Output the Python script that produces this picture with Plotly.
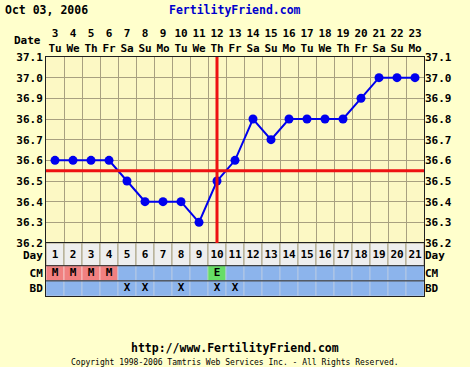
import plotly.graph_objects as go

# ---- data ----
days = list(range(1, 22))
dates = list(range(3, 24))
weekdays = ["Tu", "We", "Th", "Fr", "Sa", "Su", "Mo"] * 3
temps = [36.6, 36.6, 36.6, 36.6, 36.5, 36.4, 36.4, 36.4, 36.3, 36.5, 36.6,
         36.8, 36.7, 36.8, 36.8, 36.8, 36.8, 36.9, 37.0, 37.0, 37.0]
cm = ["M", "M", "M", "M", "", "", "", "", "", "E", "",
      "", "", "", "", "", "", "", "", "", ""]
bd = ["", "", "", "", "X", "X", "", "X", "", "X", "X",
      "", "", "", "", "", "", "", "", "", ""]
temp_ticks = [36.2, 36.3, 36.4, 36.5, 36.6, 36.7, 36.8, 36.9, 37.0, 37.1]
coverline = 36.55
ovulation_day = 10
title_date = "Oct 03, 2006"
site = "FertilityFriend.com"
footer_url = "http://www.FertilityFriend.com"
footer_copy = "Copyright 1998-2006 Tamtris Web Services Inc. - All Rights Reserved."
row_labels = ["Day", "CM", "BD"]

# ---- style ----
FONT = "DejaVu Sans Mono"
PAGE = "#FFFFCC"
PLOT = "#FCF8C4"
GRID = "#A8A080"
BLUE = "#8CB4EC"
DAYROW = "#EEEEEE"
CM_COLORS = {"M": "#F08080", "E": "#66DD66", "": BLUE}
bold = dict(family=FONT, size=11, color="black", weight="bold")

table_frac = 53 / 239
row_pos = {"Day": 2.72, "CM": 1.5, "BD": 0.5}

fig = go.Figure()
fig.add_trace(go.Scatter(
    x=days, y=temps, mode="lines+markers", xaxis="x", yaxis="y",
    line=dict(color="#0000EE", width=2),
    marker=dict(color="#0000EE", size=9), showlegend=False, hoverinfo="skip"))
fig.add_trace(go.Scatter(x=days, y=temps, mode="none", xaxis="x", yaxis="y3",
                         showlegend=False, hoverinfo="skip"))

for label, vals in (("Day", [str(d) for d in days]), ("CM", cm), ("BD", bd)):
    fig.add_trace(go.Scatter(
        x=days, y=[row_pos[label]] * len(days), text=vals, mode="text",
        textposition="middle center", textfont=bold, xaxis="x2", yaxis="y2",
        showlegend=False, hoverinfo="skip"))
fig.add_trace(go.Scatter(x=days, y=[row_pos["BD"]] * len(days), mode="none",
                         xaxis="x2", yaxis="y4", showlegend=False, hoverinfo="skip"))

shapes = []
# table cells
for d, c in zip(days, cm):
    shapes.append(dict(type="rect", xref="x2", yref="y2", x0=d - 0.5, x1=d + 0.5,
                       y0=2, y1=3.5, fillcolor=DAYROW, line=dict(color=GRID, width=1),
                       layer="below"))
    shapes.append(dict(type="rect", xref="x2", yref="y2", x0=d - 0.5, x1=d + 0.5,
                       y0=1, y1=2, fillcolor=CM_COLORS[c],
                       line=dict(color="#B4C8E4" if c == "" else "#F4C0C0" if c == "M" else "#A0E0A0", width=1),
                       layer="below"))
    shapes.append(dict(type="rect", xref="x2", yref="y2", x0=d - 0.5, x1=d + 0.5,
                       y0=0, y1=1, fillcolor=BLUE, line=dict(color="#B4C8E4", width=1),
                       layer="below"))
for yv in (1, 2):
    shapes.append(dict(type="line", xref="x2", yref="y2", x0=0.5, x1=21.5,
                       y0=yv, y1=yv, line=dict(color="#202020", width=1), layer="above"))
# coverline and ovulation line
shapes.append(dict(type="line", xref="x", yref="y", x0=ovulation_day, x1=ovulation_day,
                   y0=temp_ticks[0], y1=temp_ticks[-1] + 0.01,
                   line=dict(color="#EE1111", width=3), layer="above"))
shapes.append(dict(type="line", xref="x", yref="y", x0=0.5, x1=21.5,
                   y0=coverline, y1=coverline,
                   line=dict(color="#EE1111", width=3), layer="above"))

tick_text = [f"{t:.1f}" for t in temp_ticks]
axis_common = dict(showline=True, linecolor="#202020", linewidth=1, mirror=True,
                   ticks="", zeroline=False, automargin=False)

fig.update_layout(
    width=470, height=367,
    margin=dict(l=46, r=46, t=57, b=71, pad=0),
    paper_bgcolor=PAGE, plot_bgcolor=PLOT,
    shapes=shapes,
    xaxis=dict(domain=[0, 1], anchor="y", side="top", range=[0.5, 21.5],
               tickmode="array", tickvals=days,
               ticktext=[f"{d}<br>{w}" for d, w in zip(dates, weekdays)],
               tickfont=bold, showgrid=False,
               minor=dict(tickmode="array", tickvals=[d - 0.5 for d in days] + [days[-1] + 0.5],
                          showgrid=True, gridcolor=GRID, gridwidth=1, ticks=""),
               **axis_common),
    yaxis=dict(domain=[table_frac, 1], anchor="x", range=[temp_ticks[0], temp_ticks[-1]],
               tickmode="array", tickvals=temp_ticks, ticktext=tick_text, tickfont=bold,
               showgrid=True, gridcolor=GRID, gridwidth=1, **axis_common),
    yaxis3=dict(overlaying="y", side="right", anchor="x",
                range=[temp_ticks[0], temp_ticks[-1]],
                tickmode="array", tickvals=temp_ticks, ticktext=tick_text, tickfont=bold,
                showgrid=False, zeroline=False, ticks="", automargin=False),
    xaxis2=dict(domain=[0, 1], anchor="y2", range=[0.5, 21.5], showticklabels=False,
                showgrid=False, **axis_common),
    yaxis2=dict(domain=[0, table_frac], anchor="x2", range=[0, 3.5],
                tickmode="array", tickvals=[row_pos[r] for r in row_labels],
                ticktext=row_labels, tickfont=bold, showgrid=False, **axis_common),
    yaxis4=dict(overlaying="y2", side="right", anchor="x2", range=[0, 3.5],
                tickmode="array", tickvals=[row_pos[r] for r in row_labels],
                ticktext=row_labels, tickfont=bold, showgrid=False, zeroline=False,
                ticks="", automargin=False),
    annotations=[
        dict(text=title_date, xref="paper", yref="paper", x=0, y=1, xanchor="left",
             yanchor="middle", xshift=-43, yshift=47, showarrow=False,
             font=dict(family=FONT, size=11.5, color="black", weight="bold")),
        dict(text=site, xref="paper", yref="paper", x=0.5, y=1, xanchor="center",
             yanchor="middle", yshift=47, showarrow=False,
             font=dict(family=FONT, size=11.5, color="#0000CC", weight="bold")),
        dict(text="Date", xref="paper", yref="paper", x=0, y=1, xanchor="right",
             yanchor="middle", xshift=-3, yshift=17, showarrow=False, font=bold),
        dict(text=footer_url, xref="paper", yref="paper", x=0.5, y=0, xanchor="center",
             yanchor="middle", yshift=-52, showarrow=False,
             font=dict(family=FONT, size=11.5, color="black", weight="bold")),
        dict(text=footer_copy, xref="paper", yref="paper", x=0.5, y=0, xanchor="center",
             yanchor="middle", yshift=-66, showarrow=False,
             font=dict(family=FONT, size=8, color="black")),
    ],
)

fig.write_html("out.html",
               config={"displayModeBar": False, "staticPlot": True},
               post_script="document.body.style.margin='0';document.body.style.background='#FFFFCC';")
